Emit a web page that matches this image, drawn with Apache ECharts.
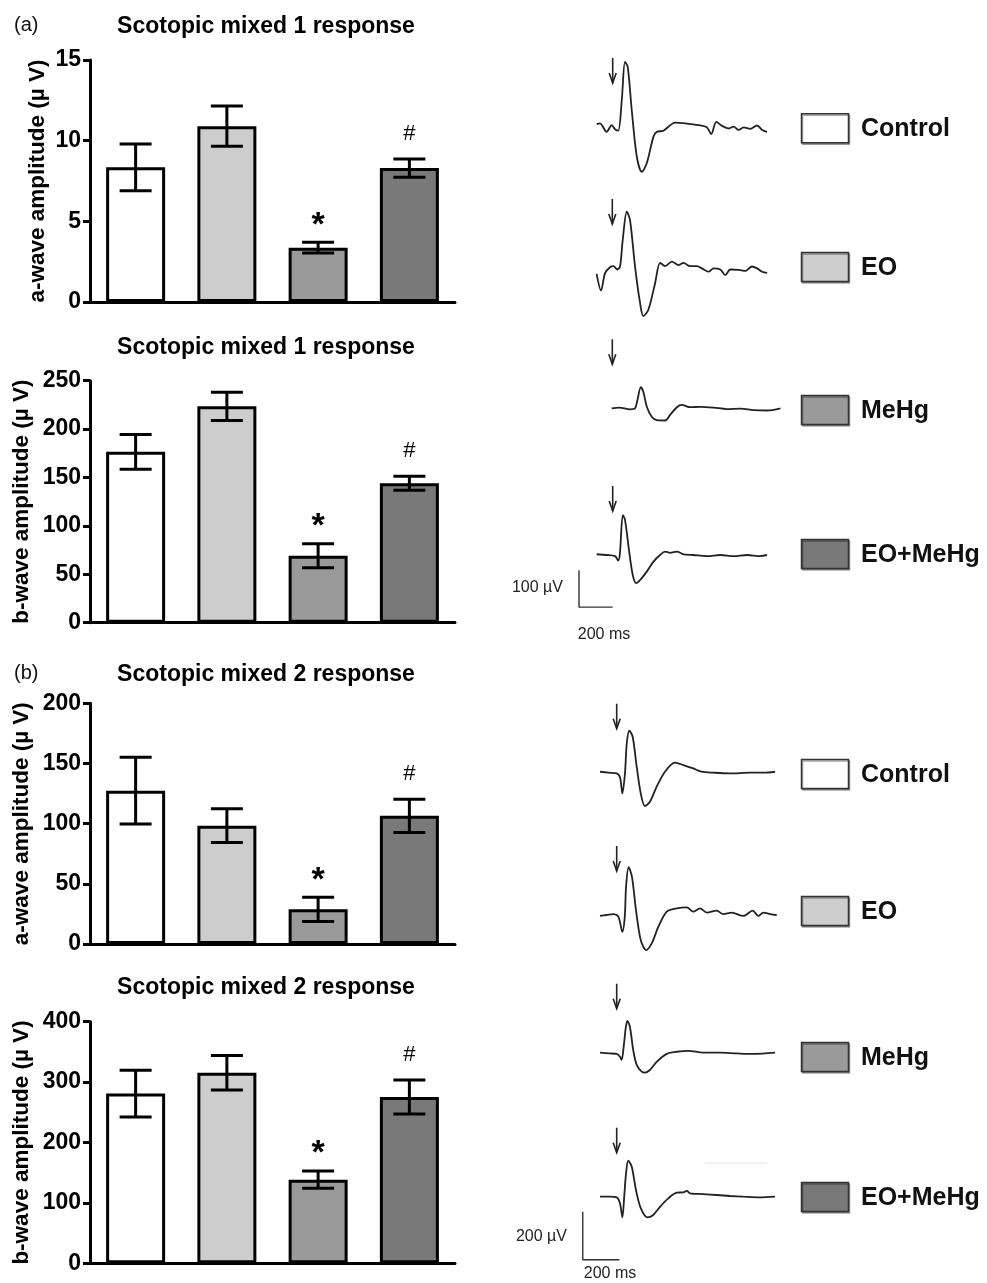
<!DOCTYPE html>
<html><head><meta charset="utf-8">
<script src="https://cdn.jsdelivr.net/npm/echarts@6/dist/echarts.min.js"></script>
<style>html,body{margin:0;padding:0;background:#fff}#c{width:987px;height:1283px}</style>
</head><body><div id="c"></div>
<script>
// ---------- DATA ----------
const groups = ['Control', 'EO', 'MeHg', 'EO+MeHg'];
const groupColors = ['#ffffff', '#cdcdcd', '#9a9a9a', '#797979'];

const chartTitles = ['Scotopic mixed 1 response', 'Scotopic mixed 1 response', 'Scotopic mixed 2 response', 'Scotopic mixed 2 response'];
const yNames = ['a-wave amplitude (\u00b5 V)', 'b-wave amplitude (\u00b5 V)', 'a-wave amplitude (\u00b5 V)', 'b-wave amplitude (\u00b5 V)'];
const yMax = [15, 250, 200, 400];
const yStep = [5, 50, 50, 100];

const mixed1A = [8.35, 10.9, 3.37, 8.3];
const mixed1AErr = [1.45, 1.25, 0.33, 0.57];
const mixed1B = [176.5, 223.5, 69.2, 144];
const mixed1BErr = [18, 14.5, 12.4, 7.2];
const mixed2A = [127.4, 98.3, 28.8, 106.5];
const mixed2AErr = [27.7, 14, 10.1, 13.8];
const mixed2B = [281, 315.5, 138.4, 275.3];
const mixed2BErr = [38.7, 28.4, 14.3, 28.2];
const sigMarks = ['', '', '*', '#'];

// ERG traces: [time (ms) from stimulus, amplitude (µV)]
const traceCtrl1 = [[-95,8],[-76,10],[-36,-13],[-6,5],[14,-6],[33,-10],[54,73],[73,176],[89,163],[113,46],[143,-80],[173,-121],[202,-98],[242,-26],[262,-13],[301,-10],[371,12],[430,10],[509,5],[559,-1],[585,-19],[615,14],[649,3],[688,-4],[718,1],[747,-8],[777,-1],[817,-5],[857,4],[887,-8],[916,-13]];
const traceEO1 = [[-93,-16],[-67,-61],[-43,-14],[-14,2],[6,5],[30,-4],[46,4],[62,76],[86,152],[105,130],[135,4],[165,-95],[184,-130],[214,-113],[254,-41],[284,14],[314,5],[353,17],[393,8],[422,14],[462,5],[502,5],[532,-1],[571,-10],[601,-1],[641,-4],[671,-19],[700,-4],[750,-5],[790,-8],[829,4],[859,-1],[889,-10],[919,-13]];
const traceMeHg1 = [[-4,0],[40,2],[105,-3],[135,0],[149,22],[169,57],[184,45],[205,4],[234,-23],[264,-32],[314,-33],[343,-18],[383,3],[413,9],[462,3],[522,4],[601,2],[681,-2],[760,-1],[839,-5],[919,-6],[998,0]];
const traceEOMeHg1 = [[-95,2],[-36,0],[14,-3],[33,-15],[43,5],[60,108],[73,95],[99,5],[119,-54],[139,-76],[162,-68],[202,-45],[242,-18],[281,0],[311,9],[341,6],[381,9],[420,2],[480,0],[559,-3],[639,0],[718,-3],[797,0],[876,-3],[916,0]];
const traceCtrl2 = [[-91,4],[-46,0],[0,-3],[18,-19],[31,-86],[45,-3],[55,123],[69,175],[87,150],[109,25],[131,-86],[154,-139],[181,-121],[218,-58],[263,4],[317,42],[363,32],[417,18],[463,4],[526,0],[617,-3],[727,0],[799,0],[863,4]];
const traceEO2 = [[-91,-4],[-55,0],[-19,4],[9,-7],[31,-70],[44,-7],[51,118],[65,199],[83,160],[105,21],[131,-104],[160,-146],[191,-118],[227,-49],[273,14],[327,28],[382,32],[417,14],[454,28],[491,10],[545,18],[581,4],[627,10],[690,-4],[741,18],[772,-4],[799,10],[836,4],[872,0]];
const traceMeHg2 = [[-91,0],[-37,-3],[0,-5],[18,-17],[27,-30],[40,39],[49,102],[58,133],[72,108],[90,11],[109,-51],[136,-79],[154,-83],[181,-72],[218,-38],[273,-5],[327,4],[390,8],[472,0],[563,0],[654,-3],[745,-5],[863,0]];
const traceEOMeHg2 = [[-91,0],[-37,0],[0,-3],[18,-28],[31,-86],[41,0],[51,98],[63,150],[82,125],[105,28],[131,-48],[167,-86],[199,-76],[236,-42],[281,-7],[327,17],[363,18],[382,24],[400,14],[472,11],[545,7],[618,3],[690,0],[781,-3],[863,0]];

// scale bars: [ms, µV] in the trace frame (100 µV / 200 ms and 200 µV / 200 ms)
const scaleBarA = [[-200,-41],[-200,-141],[0,-141]];
const scaleBarB = [[-185,-63],[-185,-263],[15,-263]];
const scaleLabelsA = ['100 \u00b5V', '200 ms'];
const scaleLabelsB = ['200 \u00b5V', '200 ms'];

// ---------- LAYOUT ----------
const FONT = "'Liberation Sans', Arial, Helvetica, sans-serif";
const barMeans = [mixed1A, mixed1B, mixed2A, mixed2B];
const barErrs = [mixed1AErr, mixed1BErr, mixed2AErr, mixed2BErr];
const barGridBox = [
  {top: 60, height: 242, nameGap: 41, titleY: 27},
  {top: 380.7, height: 242, nameGap: 57, titleY: 347.5},
  {top: 703.3, height: 240.7, nameGap: 57, titleY: 674.5},
  {top: 1021.7, height: 241.6, nameGap: 57, titleY: 987.5}
];
const barLeft = 90, barW = 365;

const traces = [traceCtrl1, traceEO1, traceMeHg1, traceEOMeHg1, traceCtrl2, traceEO2, traceMeHg2, traceEOMeHg2];
const traceAnchor = [
  [612.7, 127], [612.3, 268], [612.3, 408.3], [612.7, 555],
  [616.7, 772.7], [616.7, 915], [616.7, 1052.7], [616.7, 1196.7]
];
const panelScale = [
  {pxMs: 33.7 / 200, pxUv: 37 / 100, xmin: -220, xmax: 1020, ymin: -160, ymax: 200},
  {pxMs: 36.7 / 200, pxUv: 48 / 200, xmin: -200, xmax: 900, ymin: -280, ymax: 300}
];

const grids = [], xAxes = [], yAxes = [], series = [];

barGridBox.forEach((b, i) => {
  grids.push({left: barLeft, top: b.top, width: barW, height: b.height});
  xAxes.push({
    type: 'category', gridIndex: i, data: groups,
    axisLine: {lineStyle: {color: '#000', width: 3}},
    axisTick: {alignWithLabel: true, length: 8, lineStyle: {color: '#000', width: 3}},
    axisLabel: {show: false}
  });
  yAxes.push({
    type: 'value', gridIndex: i, min: 0, max: yMax[i], interval: yStep[i],
    axisLine: {show: true, lineStyle: {color: '#000', width: 3}},
    axisTick: {show: true, length: 7, lineStyle: {color: '#000', width: 3}},
    splitLine: {show: false},
    axisLabel: {fontSize: 23, fontWeight: 'bold', color: '#000', margin: 9, fontFamily: FONT},
    name: yNames[i], nameLocation: 'middle', nameGap: b.nameGap,
    nameTextStyle: {fontSize: 22.5, fontWeight: 'bold', color: '#000', fontFamily: FONT}
  });
  series.push({
    type: 'bar', xAxisIndex: i, yAxisIndex: i, barWidth: 59, silent: true,
    data: barMeans[i].map((v, k) => ({value: v, itemStyle: {color: groupColors[k]}})),
    itemStyle: {borderColor: '#000', borderWidth: 3}
  });
  series.push({
    type: 'custom', xAxisIndex: i, yAxisIndex: i, silent: true, z: 5,
    data: barMeans[i].map((v, k) => [k, v - barErrs[i][k], v + barErrs[i][k]]),
    renderItem: (params, api) => {
      const k = api.value(0);
      const lo = api.coord([k, api.value(1)]);
      const hi = api.coord([k, api.value(2)]);
      const cw = 16;
      const st = {stroke: '#000', lineWidth: 3};
      const ch = [
        {type: 'line', shape: {x1: lo[0], y1: lo[1], x2: hi[0], y2: hi[1]}, style: st},
        {type: 'line', shape: {x1: hi[0] - cw, y1: hi[1], x2: hi[0] + cw, y2: hi[1]}, style: st},
        {type: 'line', shape: {x1: lo[0] - cw, y1: lo[1], x2: lo[0] + cw, y2: lo[1]}, style: st}
      ];
      const m = sigMarks[params.dataIndex];
      if (m) {
        const star = m === '*';
        ch.push({type: 'text', style: {
          text: m, x: hi[0], y: hi[1] - (star ? 17 : 25),
          align: 'center', verticalAlign: 'middle', textAlign: 'center', textVerticalAlign: 'middle',
          fontSize: star ? 34 : 22, fontWeight: star ? 'bold' : 'normal', fontFamily: FONT, fill: '#000'
        }});
      }
      return {type: 'group', children: ch};
    }
  });
});

traces.forEach((tr, j) => {
  const ps = panelScale[j < 4 ? 0 : 1];
  const [ax, ay] = traceAnchor[j];
  const gi = 4 + j;
  grids.push({
    left: ax + ps.xmin * ps.pxMs, width: (ps.xmax - ps.xmin) * ps.pxMs,
    top: ay - ps.ymax * ps.pxUv, height: (ps.ymax - ps.ymin) * ps.pxUv
  });
  xAxes.push({type: 'value', gridIndex: gi, min: ps.xmin, max: ps.xmax, show: false});
  yAxes.push({type: 'value', gridIndex: gi, min: ps.ymin, max: ps.ymax, show: false});
  series.push({
    type: 'line', xAxisIndex: gi, yAxisIndex: gi, data: tr, showSymbol: false, smooth: 0.3,
    silent: true, lineStyle: {color: '#222', width: 1.8}
  });
  // stimulus arrow at t = 0
  series.push({
    type: 'custom', xAxisIndex: gi, yAxisIndex: gi, silent: true, data: [[0, 0]],
    renderItem: (params, api) => {
      const p = api.coord([api.value(0), api.value(1)]);
      const tip = p[1] - 44, tail = p[1] - 69;
      const st = {stroke: '#222', lineWidth: 1.6, fill: null};
      return {type: 'group', children: [
        {type: 'line', shape: {x1: p[0], y1: tail, x2: p[0], y2: tip}, style: st},
        {type: 'polyline', shape: {points: [[p[0] - 3.5, tip - 10], [p[0], tip], [p[0] + 3.5, tip - 10]]}, style: st}
      ]};
    }
  });
});

// scale bars in the last trace frame of each panel
series.push({type: 'line', xAxisIndex: 7, yAxisIndex: 7, data: scaleBarA, showSymbol: false, silent: true, lineStyle: {color: '#333', width: 1.4}});
series.push({type: 'line', xAxisIndex: 11, yAxisIndex: 11, data: scaleBarB, showSymbol: false, silent: true, lineStyle: {color: '#333', width: 1.4}});

// ---------- GRAPHIC (titles, panel letters, legends, scale labels) ----------
const gfx = [];
function txt(text, x, y, size, weight, align, color) {
  gfx.push({type: 'text', x: x, y: y, silent: true, style: {
    text: text, fontSize: size, fontWeight: weight, fontFamily: FONT, fill: color || '#000',
    align: align, textAlign: align, verticalAlign: 'middle', textVerticalAlign: 'middle'
  }});
}
barGridBox.forEach((b, i) => txt(chartTitles[i], 266, b.titleY, 23, 'bold', 'center'));
txt('(a)', 14, 25, 20, 'normal', 'left', '#111');
txt('(b)', 14, 673, 20, 'normal', 'left', '#111');

const legendYs = [[128.3, 267, 410, 554], [774, 911, 1057, 1197]];
legendYs.forEach(ys => ys.forEach((y, k) => {
  gfx.push({type: 'rect', silent: true, shape: {x: 801.5, y: y - 14.5, width: 47, height: 29},
    style: {fill: groupColors[k], stroke: '#333', lineWidth: 1.5, shadowColor: 'rgba(0,0,0,0.35)', shadowOffsetX: 1, shadowOffsetY: 1.5, shadowBlur: 0}});
  txt(groups[k], 861, y + 1, 25, 'bold', 'left', '#111');
}));

txt(scaleLabelsA[0], 563, 588, 16, 'normal', 'right', '#222');
txt(scaleLabelsA[1], 604, 635, 16, 'normal', 'center', '#222');
txt(scaleLabelsB[0], 567, 1237, 16, 'normal', 'right', '#222');
txt(scaleLabelsB[1], 610, 1274, 16, 'normal', 'center', '#222');
gfx.push({type: 'line', silent: true, shape: {x1: 705, y1: 1163, x2: 767, y2: 1163}, style: {stroke: '#e6e6e6', lineWidth: 1}});

const chart = echarts.init(document.getElementById('c'), null, {renderer: 'canvas'});
chart.setOption({
  backgroundColor: '#fff',
  animation: false,
  grid: grids, xAxis: xAxes, yAxis: yAxes, series: series,
  graphic: {elements: gfx}
});
</script>
</body></html>
